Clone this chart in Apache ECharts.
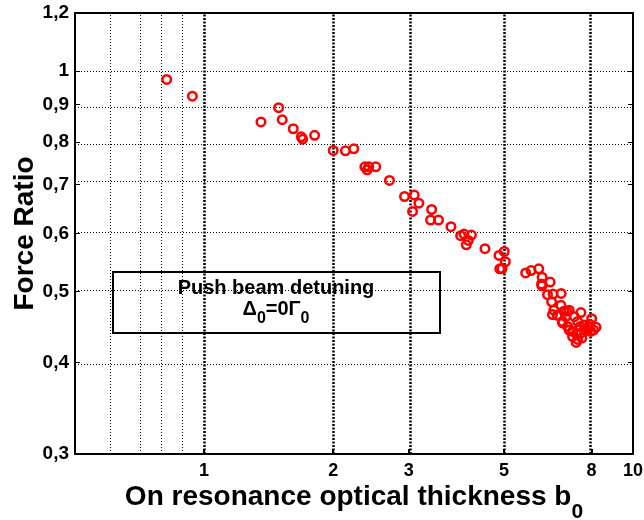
<!DOCTYPE html>
<html>
<head>
<meta charset="utf-8">
<script src="https://cdn.jsdelivr.net/npm/echarts@6/dist/echarts.min.js"></script>
<style>
  html, body { margin: 0; padding: 0; background: #fff; }
  #chart { width: 644px; height: 520px; }
</style>
</head>
<body>
<div id="chart"></div>
<script>
// tick / grid positions (real values, drawn on log10 scale)
const xTicks = [1, 2, 3, 5, 8, 10];
const xMinorGrid = [0.6, 0.7, 0.8, 0.9];
const xMajorGrid = [1, 2, 3, 5, 8];
const yTicks = [0.3, 0.4, 0.5, 0.6, 0.7, 0.8, 0.9, 1, 1.2];
const yGrid = [0.4, 0.5, 0.6, 0.7, 0.8, 0.9, 1];

// measured points: optical thickness b0 vs force ratio
const opticalThickness = [
  0.818, 0.939, 1.357, 1.492, 1.521, 1.614, 1.685, 1.697, 1.81, 2.0,
  2.135, 2.233, 2.37, 2.40, 2.42, 2.513, 2.705, 2.933, 3.09, 3.168,
  3.062, 3.392, 3.373, 3.52, 3.763, 3.964, 4.035, 4.2, 4.13, 4.087,
  4.517, 4.87, 5.01, 5.04, 4.89, 4.95, 5.62, 5.787, 6.03, 6.14,
  6.12, 6.13, 6.41, 6.32, 6.51, 6.80, 6.46, 6.79, 6.54, 6.49,
  6.66, 7.10, 7.56, 8.01, 7.93, 8.09, 7.43, 7.37, 6.85, 7.04,
  7.23, 7.10, 7.69, 7.83, 7.56, 6.97, 7.30, 7.43, 7.7, 7.53,
  7.97, 7.23, 6.85, 7.0, 7.4, 7.6, 7.9, 6.9, 8.2
];
const forceRatio = [
  0.974, 0.924, 0.852, 0.891, 0.858, 0.834, 0.813, 0.807, 0.817, 0.779,
  0.778, 0.783, 0.740, 0.733, 0.740, 0.740, 0.709, 0.674, 0.677, 0.660,
  0.643, 0.647, 0.626, 0.626, 0.613, 0.596, 0.599, 0.597, 0.587, 0.579,
  0.572, 0.560, 0.567, 0.549, 0.537, 0.537, 0.530, 0.534, 0.537, 0.523,
  0.512, 0.509, 0.515, 0.495, 0.496, 0.497, 0.484, 0.479, 0.4715, 0.465,
  0.464, 0.4715, 0.468, 0.459, 0.451, 0.443, 0.430, 0.426, 0.455, 0.448,
  0.441, 0.443, 0.450, 0.443, 0.439, 0.462, 0.462, 0.455, 0.443, 0.448,
  0.441, 0.434, 0.453, 0.470, 0.437, 0.432, 0.447, 0.470, 0.447
];

const lg = Math.log10;
const FONT = '"Liberation Sans", Arial, sans-serif';

const points = opticalThickness.map((x, i) => [lg(x), lg(forceRatio[i])]);

const gridLines = [
  ...xMinorGrid.map(v => ({ xAxis: lg(v), lineStyle: { color: '#000', width: 1, type: [1, 2] } })),
  ...xMajorGrid.map(v => ({ xAxis: lg(v), lineStyle: { color: '#000', width: 2.5, type: [2, 1.5] } })),
  ...yGrid.map(v => ({ yAxis: lg(v), lineStyle: { color: '#000', width: 1, type: [1, 2] } }))
];

const fmtX = v => String(Math.round(Math.pow(10, v)));
const fmtY = v => String(Math.round(Math.pow(10, v) * 10) / 10).replace('.', ',');

const xMin = lg(0.5), xMax = lg(10);
const yMin = lg(0.3), yMax = lg(1.2);

const chart = echarts.init(document.getElementById('chart'));
chart.setOption({
  animation: false,
  grid: { left: 75, right: 11, top: 13, bottom: 66, containLabel: false, outerBoundsMode: 'none' },
  xAxis: [{
    type: 'value', min: xMin, max: xMax,
    axisLine: { onZero: false, lineStyle: { color: '#000', width: 2 } },
    axisTick: { inside: true, length: 5, customValues: xTicks.map(lg), lineStyle: { color: '#000', width: 2 } },
    axisLabel: { customValues: xTicks.map(lg), formatter: fmtX, color: '#000', fontSize: 18, fontWeight: 'bold', fontFamily: FONT, margin: 8 },
    splitLine: { show: false },
    name: '{m|On resonance optical thickness b}{s|0}',
    nameLocation: 'middle', nameGap: 18, nameMoveOverlap: false,
    nameTextStyle: {
      rich: {
        m: { fontSize: 28, fontWeight: 'bold', fontFamily: FONT, color: '#000' },
        s: { fontSize: 21, fontWeight: 'bold', fontFamily: FONT, color: '#000', padding: [30, 0, 0, 0] }
      }
    }
  }, {
    type: 'value', position: 'top', min: xMin, max: xMax,
    axisLine: { onZero: false, lineStyle: { color: '#000', width: 2 } },
    axisTick: { show: false }, axisLabel: { show: false }, splitLine: { show: false }
  }],
  yAxis: [{
    type: 'value', min: yMin, max: yMax,
    axisLine: { show: true, onZero: false, lineStyle: { color: '#000', width: 2 } },
    axisTick: { show: true, inside: true, length: 5, customValues: yTicks.map(lg), lineStyle: { color: '#000', width: 1 } },
    axisLabel: { customValues: yTicks.map(lg), formatter: fmtY, color: '#000', fontSize: 19, fontWeight: 'bold', fontFamily: FONT, margin: 6 },
    splitLine: { show: false },
    name: 'Force Ratio', nameLocation: 'middle', nameGap: 36, nameMoveOverlap: false,
    nameTextStyle: { fontSize: 28, fontWeight: 'bold', fontFamily: FONT, color: '#000' }
  }, {
    type: 'value', position: 'right', min: yMin, max: yMax,
    axisLine: { show: true, onZero: false, lineStyle: { color: '#000', width: 2 } },
    axisTick: { show: true, inside: true, length: 5, customValues: yTicks.map(lg), lineStyle: { color: '#000', width: 1 } },
    axisLabel: { show: false }, splitLine: { show: false }
  }],
  series: [{
    type: 'scatter',
    data: points,
    symbol: 'circle',
    symbolSize: 8.5,
    itemStyle: { color: 'transparent', borderColor: '#ff0000', borderWidth: 2.5, opacity: 1 },
    z: 5,
    markLine: {
      silent: true,
      symbol: ['none', 'none'],
      label: { show: false },
      lineStyle: { color: '#000' },
      data: gridLines,
      z: 1
    }
  }],
  graphic: [{
    type: 'group', left: 112, top: 271, z: 100,
    children: [
      { type: 'rect', shape: { x: 0, y: 0, width: 327, height: 61 },
        style: { fill: '#fff', stroke: '#000', lineWidth: 2 } },
      { type: 'text', x: 163, y: 16,
        style: { text: 'Push beam detuning', fontSize: 20, fontWeight: 'bold', fontFamily: FONT,
                 fill: '#000', align: 'center', verticalAlign: 'middle' } },
      { type: 'text', x: 163, y: 37,
        style: { text: '{m|\u0394}{s|0}{m|=0\u0393}{s|0}', align: 'center', verticalAlign: 'middle',
                 rich: {
                   m: { fontSize: 20, fontWeight: 'bold', fontFamily: FONT, fill: '#000', color: '#000' },
                   s: { fontSize: 16, fontWeight: 'bold', fontFamily: FONT, fill: '#000', color: '#000', padding: [20, 0, 0, 0] }
                 } } }
    ]
  }]
});
</script>
</body>
</html>
